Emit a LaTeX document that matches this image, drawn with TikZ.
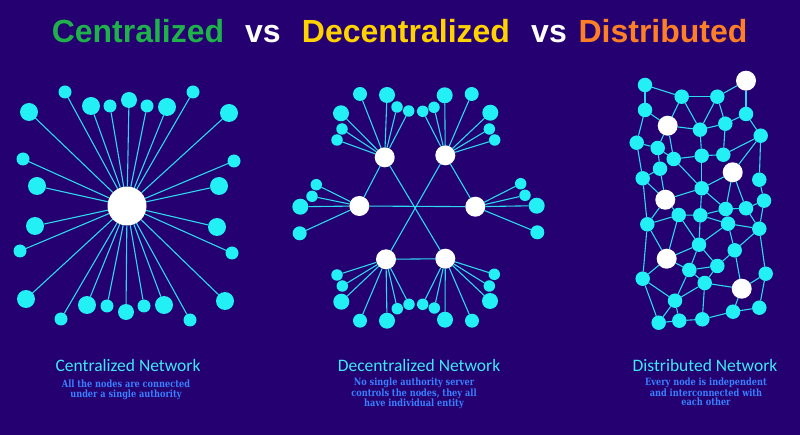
\documentclass[tikz,border=0pt]{standalone}
\usepackage{fontspec}
\setmainfont{Liberation Sans}
\newfontfamily\titlefont{Liberation Sans}
\newfontfamily\capfont{Carlito}
\newfontfamily\descfont{DejaVu Serif}[FakeStretch=0.82]
\definecolor{bgpurple}{HTML}{240070}
\definecolor{nodecyan}{HTML}{22F0F5}
\definecolor{linecyan}{HTML}{2ED8EE}
\definecolor{tgreen}{HTML}{1FB24A}
\definecolor{tyellow}{HTML}{FFD200}
\definecolor{torange}{HTML}{FF7F27}
\definecolor{capcyan}{HTML}{3EE8F2}
\definecolor{descblue}{HTML}{3A80FF}
\begin{document}
\begin{tikzpicture}[x=1pt,y=-1pt,
  cn/.style={circle,fill=nodecyan,inner sep=0pt,outer sep=0pt,minimum size=#1},
  wn/.style={circle,fill=white,inner sep=0pt,outer sep=0pt,minimum size=#1},
  link/.style={draw=linecyan,line width=1.1pt},
  titletext/.style={anchor=base,inner sep=0pt,font=\titlefont\bfseries\fontsize{32}{32}\selectfont},
  captitle/.style={anchor=base,inner sep=0pt,text=capcyan,font=\capfont\fontsize{17.5}{17.5}\selectfont},
  capdesc/.style={anchor=north,inner sep=0pt,align=center,text=descblue,font=\descfont\bfseries\fontsize{10}{9.3}\selectfont}]
\fill[bgpurple] (0,0) rectangle (800,435);
\useasboundingbox (0,0) rectangle (800,435);

% ---------- title ----------
\node[titletext,text=tgreen] (t1) at (138,43) {Centralized};
\node[titletext,text=white] (t2) at (263,43) {vs};
\node[titletext,text=tyellow] (t3) at (406,43) {Decentralized};
\node[titletext,text=white] (t4) at (549,43) {vs};
\node[titletext,text=torange] (t5) at (663,43) {Distributed};

% ---------- centralized ----------
\node[wn=39pt] (c0) at (127,206) {};
\foreach \n/\x/\y/\s in {
  1/65/92/13, 2/29/112/18, 3/91/106/18, 4/110/106/13, 5/129/100/16,
  6/147/106/13, 7/167/107/18, 8/193/92/13, 9/229/113/18, 10/23/159/13,
  11/234/161/13, 12/37/186/18, 13/219/186/18, 14/35/226/18, 15/217/227/18,
  16/20/251/13, 17/232/253/13, 18/26/299/18, 19/225/301/18, 20/61/319/13,
  21/87/305/18, 22/107/306/13, 23/126/312/16, 24/144/306/13, 25/164/305/18,
  26/190/320/13}{
  \node[cn=\s pt] (c\n) at (\x,\y) {};
  \draw[link] (c0) -- (c\n);
}

% ---------- decentralized ----------
\node[wn=20pt] (h1) at (384.7,157.3) {};
\node[wn=20pt] (h2) at (445.3,155.3) {};
\node[wn=20pt] (h3) at (359.3,206) {};
\node[wn=20pt] (h4) at (475.3,206.7) {};
\node[wn=20pt] (h5) at (386,259.3) {};
\node[wn=20pt] (h6) at (445.3,258.7) {};
\draw[link] (h1) -- (h6);
\draw[link] (h2) -- (h5);
\draw[link] (h3) -- (h4);
\draw[link] (h1) -- (h3);
\draw[link] (h2) -- (h4);
\draw[link] (h5) -- (h6);
\foreach \h/\i/\x/\y/\s in {
  1/1/360/94/14, 1/2/387/95/16, 1/3/397/107/11.5, 1/4/408.7/111/11.5,
  1/5/341/113.3/16, 1/6/342/129/11.5, 1/7/337/140/11.5,
  2/1/444.7/95.3/16, 2/2/471.7/94/14, 2/3/422.7/111.3/11.5, 2/4/434/107.3/11.5,
  2/5/490.3/112.7/16, 2/6/489.3/129/11.5, 2/7/494.7/140/11.5,
  3/1/316.3/184.7/11.5, 3/2/312/196.3/11.5, 3/3/300.3/206.7/16, 3/4/299.7/233.3/14,
  4/1/520.7/183.7/11.5, 4/2/525/195.3/11.5, 4/3/536.7/205.7/16, 4/4/537.3/232.3/14,
  5/1/337/275/11.5, 5/2/342.3/286/11.5, 5/3/341.3/301.7/16, 5/4/360/320.7/14,
  5/5/387/320.7/16, 5/6/397.3/308.7/11.5, 5/7/409/304.3/11.5,
  6/1/422.7/304.3/11.5, 6/2/434.3/308/11.5, 6/3/445/319.7/16, 6/4/472/320.7/14,
  6/5/490/301/16, 6/6/489.3/286/11.5, 6/7/494.3/274.3/11.5}{
  \node[cn=\s pt] (d\h-\i) at (\x,\y) {};
  \draw[link] (h\h) -- (d\h-\i);
}

% ---------- distributed ----------
\foreach \n/\x/\y in {W1/746/80.7, W2/667.7/125.7, W3/732.7/172.3,
  W4/665.3/199.7, W5/666.7/258.7, W6/741.7/288.7}{
  \node[wn=20pt] (s\n) at (\x,\y) {};
}
\foreach \n/\x/\y in {a/645/85, b/681.7/96.7, c/717.3/96.7, d/645/110,
  e/746/114, f/725.3/123.7, g/700/129.7, h/760.7/135.7, i/636.7/142.7,
  j/657.7/148, k/673.7/159, l/701.7/155.7, m/723.3/154.7, n/660/168.7,
  o/642.7/178.3, p/759.3/179.7, q/701.7/188.3, r/764/200.7, s/725.7/209,
  t/746/208.3, u/678.7/215, v/700.3/215.3, w/647.3/224.3, x/728/223.7,
  y/759.3/228.7, z/699/244.7, A/734.7/250.3, B/717.3/266, C/689.3/270,
  D/642.7/278.7, E/765.7/273.7, F/704.7/283, G/675/300.7, H/733/311.7,
  I/759.3/307.7, J/658.7/322.7, K/679.3/320.7, L/702.3/319.3}{
  \node[cn=14.5pt] (s\n) at (\x,\y) {};
}
\foreach \u/\v in {a/b, a/d, b/c, c/W1, b/W2, b/g, c/g, c/f, W1/e, e/f, e/h,
  f/g, f/m, d/W2, d/i, W2/g, W2/j, W2/k, g/l, i/j, i/o, j/k, j/n, k/l, l/m,
  m/h, h/W3, h/p, k/q, l/q, n/o, n/W4, o/W4, q/W3, W3/s, W3/t, p/r, q/W4,
  q/v, q/s, o/w, W4/u, W4/w, u/v, v/s, s/t, t/r, t/y, r/y, s/x, v/x, x/y,
  x/A, y/A, y/E, u/w, u/W5, v/z, w/W5, w/D, u/z, x/z, z/W5, z/C, z/B, A/B,
  B/C, B/F, A/W6, W5/C, W5/D, C/F, F/W6, F/L, F/G, C/G, D/G, D/J, E/W6,
  E/I, G/J, G/K, J/K, K/L, L/H, H/I, H/W6}{
  \draw[link] (s\u) -- (s\v);
}

% ---------- captions ----------
\node[captitle] (cap1) at (128,371.5) {Centralized Network};
\node[captitle] (cap2) at (419,371) {Decentralized Network};
\node[captitle] (cap3) at (705,371.5) {Distributed Network};
\node[capdesc] (desc1) at (126,380) {All the nodes are connected\\under a single authority};
\node[capdesc] (desc2) at (414,377.5) {No single authority server\\controls the nodes, they all\\have individual entity};
\node[capdesc] (desc3) at (706,377.5) {Every node is independent\\and interconnected with\\each other};
\end{tikzpicture}
\end{document}
